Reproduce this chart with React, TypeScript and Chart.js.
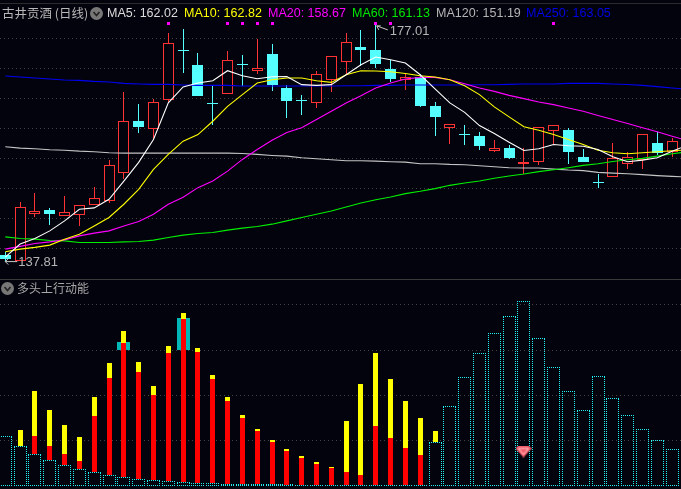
import { useEffect, useRef } from "react";
import { Chart, registerables } from "chart.js";

Chart.register(...registerables);

const opens = [138.94,137.95,145.71,146.32,145.37,145.61,147.25,147.85,152.54,161.17,159.80,164.58,172.70,170.40,163.96,165.50,170.49,169.30,172.22,166.61,164.46,164.02,167.81,170.85,173.33,172.88,169.75,167.81,168.37,163.59,159.89,158.81,158.69,156.17,156.54,153.95,154.35,159.40,159.68,155.06,150.93,151.81,153.96,154.61,157.49,155.93];
const closes = [138.23,146.81,146.27,145.66,146.10,147.25,148.41,153.86,161.12,160.18,164.25,173.99,172.62,165.17,163.88,171.18,170.41,169.86,167.11,164.35,164.38,168.87,171.84,174.15,172.93,170.45,167.98,168.37,163.52,161.71,160.62,158.73,156.92,156.66,154.90,154.29,160.13,160.39,155.93,154.24,150.85,155.01,155.06,158.97,155.84,157.81];
const highs = [139.39,147.63,149.12,146.76,148.63,147.25,150.11,154.57,165.95,163.97,164.80,175.69,176.35,172.39,166.94,172.72,172.06,174.70,173.87,167.11,165.46,169.41,171.84,175.69,176.18,177.01,171.23,168.92,168.92,164.30,160.62,160.46,159.30,158.03,157.20,156.66,160.13,160.39,159.89,156.38,152.26,157.49,156.00,158.97,159.35,158.31];
const lows = [137.81,137.90,145.27,143.84,145.37,143.68,147.25,147.47,151.43,159.07,158.03,164.02,168.97,165.17,160.39,165.50,166.82,168.92,166.11,161.54,162.16,163.19,165.83,168.75,170.12,169.91,167.48,166.16,163.36,158.69,157.25,157.09,156.26,155.93,154.73,152.37,153.74,157.20,153.90,154.24,149.95,151.81,153.08,153.08,155.39,155.06];

const ma5 = [138.56,140.71,141.64,142.90,144.55,146.48,146.70,148.13,151.15,154.24,158.03,164.09,166.73,167.39,167.77,169.42,168.59,168.10,168.43,168.47,167.11,166.99,167.11,168.75,170.40,171.68,171.23,170.69,168.75,166.40,164.09,162.53,160.34,159.02,157.58,156.22,156.50,157.20,156.99,156.92,156.38,155.17,154.35,154.61,155.01,156.10,157.04];
const ma10 = [139.43,139.88,140.16,140.54,141.53,142.35,143.72,145.11,147.31,149.78,153.08,155.56,157.75,158.85,161.05,163.52,165.46,167.39,167.93,168.21,168.21,167.77,167.49,168.75,169.42,169.37,169.25,168.97,168.59,168.37,167.93,166.94,165.46,163.43,161.78,160.13,159.57,158.85,158.03,157.20,156.26,155.83,155.67,155.83,156.00,156.16,156.30];
const ma20 = [139.88,140.33,140.82,141.08,141.41,142.07,142.52,142.90,143.72,144.45,145.66,147.31,148.46,150.06,151.15,152.80,154.73,156.38,157.91,159.19,159.96,161.33,162.70,164.09,165.29,166.56,167.39,168.05,168.31,168.31,167.93,167.27,166.56,166.00,165.34,164.80,164.25,163.81,163.26,162.70,161.99,161.33,160.67,159.96,159.30,158.57,157.87];
const ma60 = [141.91,141.64,141.53,141.31,141.25,140.98,140.98,140.98,141.08,141.15,141.37,141.81,142.19,142.47,142.64,143.02,143.35,143.62,144.01,144.55,145.11,145.66,146.20,146.86,147.52,148.05,148.51,149.07,149.45,149.90,150.44,150.82,151.15,151.60,151.99,152.31,152.71,153.03,153.36,153.74,154.02,154.40,154.68,154.90,155.28,155.67,155.97];
const ma120 = [156.83,156.60,156.50,156.33,156.26,156.10,156.00,155.84,155.77,155.77,155.77,155.77,155.77,155.77,155.77,155.77,155.72,155.56,155.39,155.27,155.01,154.85,154.68,154.52,154.52,154.45,154.35,154.29,154.02,154.02,153.91,153.86,153.69,153.53,153.36,153.30,153.30,153.13,152.97,152.87,152.59,152.47,152.37,152.21,152.04,151.92,151.84];
const ma250 = [168.54,168.37,168.21,168.05,167.88,167.82,167.65,167.55,167.32,167.22,167.15,167.15,167.05,166.99,166.99,166.99,166.89,166.89,166.89,166.89,166.89,166.89,166.89,166.94,166.94,166.99,166.99,167.05,167.05,167.05,167.05,167.05,167.10,167.10,167.15,167.22,167.22,167.22,167.32,167.32,167.32,167.22,167.15,166.99,166.78,166.56,166.36];

const signalIdx = [11, 15, 16, 17, 18, 25, 26, 37];
const priceGrid = [174.7, 169.75, 164.8, 159.85, 154.9, 149.95, 145.0, 140.05];

// lower panel, in the indicator's own units
const hollow = [146,116,92,74,59,47,38,29,23,17,14,11,8,5,5,2,2,2,2,1,0,0,0,0,0,0,0,0,0,128,236,323,395,455,506,551,440,353,281,224,326,260,209,167,134,107];
const redTop = [0,116,147,117,93,72,207,321,426,339,270,396,498,399,318,252,201,162,129,102,81,63,51,39,30,177,141,111,90,0];
const yellowTop = [0,165,282,225,180,144,264,366,462,369,297,417,516,411,330,264,210,168,135,108,87,69,54,192,303,396,318,252,201,162];
const tealBars = [{ i: 8, from: 406, to: 429 }, { i: 12, from: 406, to: 501 }];
const gemIdx = 35;
const gemValue = 100;
const panelGrid = [135, 270, 405, 540];

const BG = "#03030e";
const RED = "#ff3333";
const CYAN = "#55ffff";
const xRange = { min: -0.3577, max: 45.6 };

// the reference snaps everything to whole pixels
const snapPlugin = {
  id: "snap",
  afterDatasetsUpdate(chart: any) {
    chart.data.datasets.forEach((ds: any, idx: number) => {
      const meta = chart.getDatasetMeta(idx);
      if (meta.type === "bar") {
        meta.data.forEach((el: any) => {
          el.x = Math.floor(el.x) + 0.5;
          el.y = Math.round(el.y);
          el.base = Math.round(el.base);
          if (el.y === el.base) el.y -= 1;
        });
      } else if (ds.showLine === false) {
        meta.data.forEach((el: any) => {
          el.x = Math.floor(el.x) + 0.5;
          el.y = Math.floor(el.y) + 0.5;
        });
      }
    });
  },
};

const extremesPlugin = {
  id: "extremes",
  afterDatasetsDraw(chart: any) {
    const { ctx, scales } = chart;
    const hi = highs.indexOf(Math.max(...highs));
    const lo = lows.indexOf(Math.min(...lows));
    const hx = scales.x.getPixelForValue(hi);
    const hy = scales.y.getPixelForValue(highs[hi]);
    const lx = scales.x.getPixelForValue(lo);
    const ly = scales.y.getPixelForValue(lows[lo]);
    ctx.save();
    ctx.strokeStyle = "#c8c8c8";
    ctx.fillStyle = "#b4b4b4";
    ctx.font = '13px "Liberation Sans"';
    ctx.textBaseline = "middle";
    ctx.lineWidth = 1;
    ctx.beginPath();
    ctx.moveTo(hx + 12, hy + 5);
    ctx.lineTo(hx + 1, hy + 1);
    ctx.lineTo(hx + 5, hy + 1);
    ctx.moveTo(hx + 1, hy + 1);
    ctx.lineTo(hx + 3, hy + 5);
    ctx.moveTo(lx + 12, ly);
    ctx.lineTo(lx, ly);
    ctx.lineTo(lx + 3, ly - 3);
    ctx.moveTo(lx, ly);
    ctx.lineTo(lx + 3, ly + 3);
    ctx.stroke();
    ctx.fillText(highs[hi].toFixed(2), hx + 14, hy + 7);
    ctx.fillText(lows[lo].toFixed(2), lx + 13, ly + 1);
    ctx.restore();
  },
};

const dottedPlugin = {
  id: "dotted",
  beforeDatasetsDraw(chart: any) {
    const { ctx } = chart;
    const meta = chart.getDatasetMeta(0);
    ctx.save();
    ctx.fillStyle = "#22f0f0";
    meta.data.forEach((el: any, i: number) => {
      const left = el.x - 6.5;
      const right = el.x + 5.5;
      const base = el.base;
      const top = hollow[i] === 0 ? base : el.y;
      for (let x = left; x <= right; x += 2) {
        ctx.fillRect(x, base, 1, 1);
        if (top !== base) ctx.fillRect(x, top, 1, 1);
      }
      for (let y = base - 2; y > top; y -= 2) {
        ctx.fillRect(left, y, 1, 1);
        ctx.fillRect(right, y, 1, 1);
      }
    });
    ctx.restore();
  },
};

function makeGem() {
  const c = document.createElement("canvas");
  c.width = 16;
  c.height = 12;
  const g = c.getContext("2d") as CanvasRenderingContext2D;
  g.fillStyle = "#f25c6b";
  g.beginPath();
  g.moveTo(3, 0);
  g.lineTo(13, 0);
  g.lineTo(16, 3);
  g.lineTo(8, 12);
  g.lineTo(0, 3);
  g.closePath();
  g.fill();
  g.strokeStyle = "#ffc4c8";
  g.lineWidth = 1;
  g.beginPath();
  g.moveTo(3, 3);
  g.lineTo(13, 3);
  g.lineTo(8, 9);
  g.closePath();
  g.stroke();
  return c;
}

const Chevron = ({ left, top }: { left: number; top: number }) => (
  <svg width={13} height={13} style={{ position: "absolute", left, top }}>
    <circle cx={6.5} cy={6.5} r={6.5} fill="#777" />
    <polyline points="3.5,5 6.5,8.5 9.5,5" fill="none" stroke="#222" strokeWidth={1.6} />
  </svg>
);

const labels = [
  { text: "MA5: 162.02", left: 107, color: "#dcdcdc" },
  { text: "MA10: 162.82", left: 184, color: "#ffff00" },
  { text: "MA20: 158.67", left: 268, color: "#ff00ff" },
  { text: "MA60: 161.13", left: 352, color: "#00e800" },
  { text: "MA120: 151.19", left: 436, color: "#b4b4b4" },
  { text: "MA250: 163.05", left: 526, color: "#0000e6" },
];

const lineDs = (data: number[], color: string) => ({
  type: "line" as const,
  data: data.map((y, x) => ({ x, y })),
  borderColor: color,
  borderWidth: 1.1,
  pointRadius: 0,
  tension: 0,
  order: 1,
});

const App = () => {
  const topRef = useRef<HTMLCanvasElement>(null);
  const bottomRef = useRef<HTMLCanvasElement>(null);

  useEffect(() => {
    document.body.style.margin = "0";
    document.body.style.background = BG;

    const isUp = (i: number) => closes[i] > opens[i];
    const xs = opens.map((_, i) => i);
    const wickColors = xs.map((i) => (isUp(i) ? RED : CYAN));
    const bodyFill = xs.map((i) => (isUp(i) ? BG : CYAN));

    const top = new Chart(topRef.current as HTMLCanvasElement, {
      type: "bar",
      data: {
        datasets: [
          lineDs(ma5, "#ffffff"),
          lineDs(ma10, "#ffff00"),
          lineDs(ma20, "#ff00ff"),
          lineDs(ma60, "#00f000"),
          lineDs(ma120, "#c4c4c4"),
          lineDs(ma250, "#0000f0"),
          {
            type: "line",
            showLine: false,
            data: signalIdx.map((x) => ({ x, y: 177.17 })),
            pointStyle: "rect",
            pointRadius: 2.12,
            pointBorderWidth: 0,
            pointBackgroundColor: "#ff00ff",
            order: 1,
          },
          {
            data: xs.map((x) => ({ x, y: [opens[x], closes[x]] })),
            backgroundColor: bodyFill,
            borderColor: wickColors,
            borderWidth: 1,
            borderSkipped: false,
            inflateAmount: 0,
            barThickness: 11,
            grouped: false,
            order: 2,
          },
          {
            data: xs.map((x) => ({ x, y: [lows[x], highs[x]] })),
            backgroundColor: wickColors,
            borderWidth: 0,
            inflateAmount: 0,
            barThickness: 1,
            grouped: false,
            order: 3,
          },
        ] as any,
      },
      options: {
        animation: false,
        responsive: false,
        devicePixelRatio: 1,
        layout: { padding: 0, autoPadding: false },
        plugins: { legend: { display: false }, tooltip: { enabled: false } },
        scales: {
          x: { type: "linear", display: false, offset: false, ...xRange },
          y: {
            min: 134.93,
            max: 181.13,
            afterBuildTicks: (s: any) => {
              s.ticks = priceGrid.map((value) => ({ value }));
            },
            afterFit: (s: any) => {
              s.width = 0;
            },
            ticks: { display: false },
            border: { display: false, dash: [1, 3] },
            grid: { color: "#444444", drawTicks: false },
          },
        },
      },
      plugins: [snapPlugin, extremesPlugin],
    } as any);

    const withRed = redTop.flatMap((to, x) => (to > hollow[x] ? [{ x, y: [hollow[x], to] }] : []));
    const withYellow = yellowTop.flatMap((to, x) =>
      to > 0 ? [{ x, y: [Math.max(redTop[x], hollow[x]), to] }] : []
    );

    const bottom = new Chart(bottomRef.current as HTMLCanvasElement, {
      type: "bar",
      data: {
        datasets: [
          {
            data: hollow.map((y, x) => ({ x, y: [0, y] })),
            backgroundColor: "transparent",
            borderWidth: 0,
            inflateAmount: 0,
            barThickness: 13,
            grouped: false,
            order: 5,
          },
          {
            data: tealBars.map((b) => ({ x: b.i, y: [b.from, b.to] })),
            backgroundColor: "#00b8b8",
            borderWidth: 0,
            inflateAmount: 0,
            barThickness: 13,
            grouped: false,
            order: 4,
          },
          {
            data: withRed,
            backgroundColor: "#ff0000",
            borderWidth: 0,
            inflateAmount: 0,
            barThickness: 5,
            grouped: false,
            order: 3,
          },
          {
            data: withYellow,
            backgroundColor: "#ffff00",
            borderWidth: 0,
            inflateAmount: 0,
            barThickness: 5,
            grouped: false,
            order: 3,
          },
          {
            type: "line",
            showLine: false,
            data: [{ x: gemIdx, y: gemValue }],
            pointStyle: makeGem(),
            order: 1,
          },
        ] as any,
      },
      options: {
        animation: false,
        responsive: false,
        devicePixelRatio: 1,
        layout: { padding: 0, autoPadding: false },
        plugins: { legend: { display: false }, tooltip: { enabled: false } },
        scales: {
          x: { type: "linear", display: false, offset: false, ...xRange },
          y: {
            min: -12,
            max: 615,
            afterBuildTicks: (s: any) => {
              s.ticks = panelGrid.map((value) => ({ value }));
            },
            afterFit: (s: any) => {
              s.width = 0;
            },
            ticks: { display: false },
            border: { display: false, dash: [1, 3] },
            grid: { color: "#444444", drawTicks: false },
          },
        },
      },
      plugins: [snapPlugin, dottedPlugin],
    } as any);

    return () => {
      top.destroy();
      bottom.destroy();
    };
  }, []);

  return (
    <div style={{ position: "relative", width: 681, height: 489, background: BG, overflow: "hidden" }}>
      <canvas ref={topRef} width={681} height={279} style={{ position: "absolute", left: 0, top: 0 }} />
      <canvas ref={bottomRef} width={681} height={209} style={{ position: "absolute", left: 0, top: 280 }} />
      <div style={{ position: "absolute", left: 0, top: 3, width: 681, height: 1, background: "#2c2c2c" }} />
      <div style={{ position: "absolute", left: 0, top: 279, width: 681, height: 1, background: "#3a3a3a" }} />
      <span style={{ position: "absolute", left: 2, top: 4, fontFamily: '"Noto Sans CJK SC"', fontSize: 12.5, lineHeight: "18px", color: "#b8b8b8", whiteSpace: "nowrap" }}>
        古井贡酒 (日线)
      </span>
      <Chevron left={90} top={7} />
      {labels.map((l) => (
        <span
          key={l.text}
          style={{ position: "absolute", left: l.left, top: 4, fontFamily: '"Liberation Sans"', fontSize: 12.5, lineHeight: "18px", color: l.color, whiteSpace: "nowrap" }}
        >
          {l.text}
        </span>
      ))}
      <Chevron left={1} top={282} />
      <span style={{ position: "absolute", left: 17, top: 279, fontFamily: '"Noto Sans CJK SC"', fontSize: 12, lineHeight: "18px", color: "#a8a8a8", whiteSpace: "nowrap" }}>
        多头上行动能
      </span>
    </div>
  );
};

export default App;
